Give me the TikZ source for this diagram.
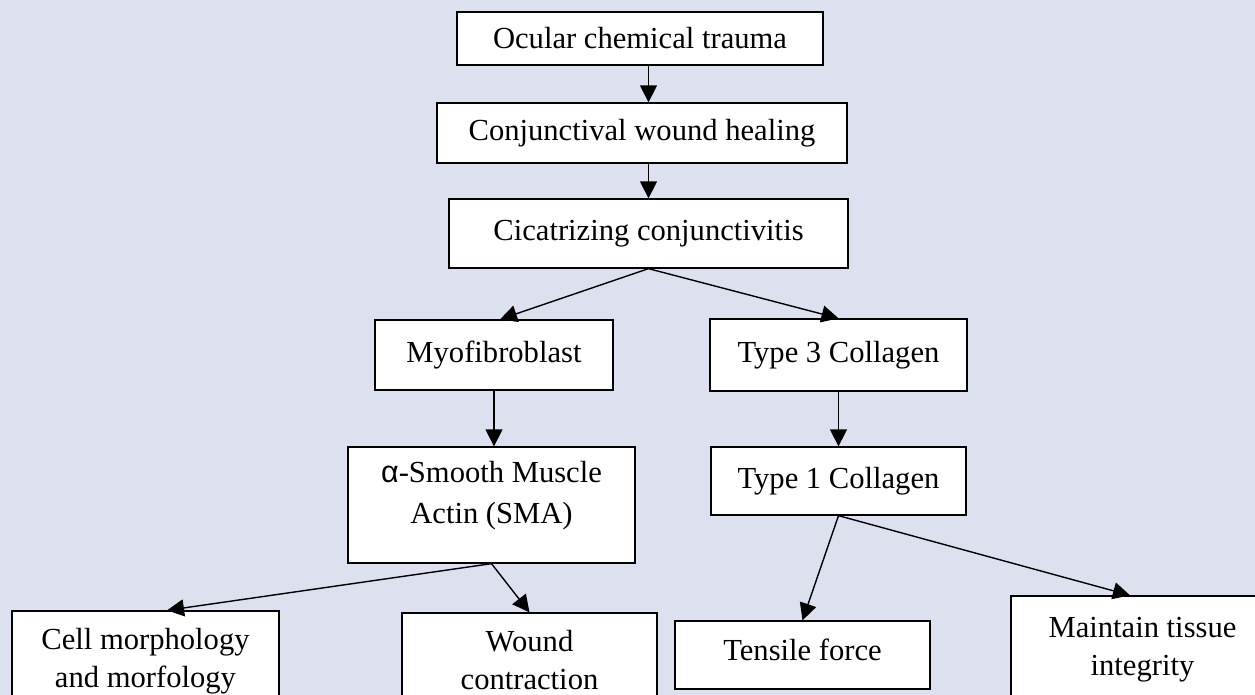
\documentclass[tikz,border=0pt]{standalone}
\usepackage{fontspec}
\setmainfont{Liberation Serif}
\newfontfamily\alphafont{Liberation Sans}
\usetikzlibrary{arrows.meta}
\definecolor{bglav}{RGB}{221,224,239}

\begin{document}
\begin{tikzpicture}[x=0.5pt, y=-0.5pt,
  box/.style={draw=black, fill=white, line width=0.65pt, align=center, inner sep=0pt,
    font=\fontsize{15.3}{19}\selectfont},
  arr/.style={-{Triangle[length=8.5pt,width=8.5pt]}, line width=0.7pt}]

% 背景
\fill[bglav] (0,0) rectangle (1255,695);
\useasboundingbox (0,0) rectangle (1255,695);
\clip (0,0) rectangle (1255,695);

\node[box, minimum width=183pt, minimum height=26.5pt] (trauma) at (640,38.5) {Ocular chemical trauma};
\node[box, minimum width=205pt, minimum height=30pt] (healing) at (642,133) {Conjunctival wound healing};
\node[box, minimum width=199.5pt, minimum height=34.5pt] (cicatr) at (648.5,233.5) {Cicatrizing conjunctivitis};

\node[box, minimum width=119pt, minimum height=35pt] (myo) at (494,355) {Myofibroblast};
\node[box, minimum width=128.5pt, minimum height=36pt] (type3) at (838.5,355) {Type 3 Collagen};

\node[box, minimum width=143.5pt, minimum height=58pt, text depth=13pt,
  font=\fontsize{15.3}{20.5}\selectfont] (sma) at (491.5,505) {{\alphafont α}-Smooth Muscle\\Actin (SMA)};
\node[box, minimum width=127.5pt, minimum height=34pt] (type1) at (838.5,481) {Type 1 Collagen};

\node[box, minimum width=133.5pt, minimum height=50pt] (cell) at (145.5,661) {Cell morphology\\and morfology};
\node[box, minimum width=127.5pt, minimum height=47pt] (wound) at (529.5,660) {Wound\\contraction};
\node[box, minimum width=127.5pt, minimum height=34pt, text depth=5pt] (tensile) at (802.5,655) {Tensile force};
\node[box, minimum width=131.5pt, minimum height=54pt] (maintain) at (1142.5,650) {Maintain tissue\\integrity};

% 箭头
\draw[arr] (trauma.south -| cicatr.north) -- (healing.north -| cicatr.north);
\draw[arr] (healing.south -| cicatr.north) -- (cicatr.north);
\draw[arr] (cicatr.south) -- ([xshift=3pt]myo.north);
\draw[arr] (cicatr.south) -- (type3.north);
\draw[arr] (myo.south) -- (myo.south |- sma.north);
\draw[arr] (type3.south) -- (type1.north);
\draw[arr] (sma.south) -- ([xshift=10.75pt]cell.north);
\draw[arr] (sma.south) -- (wound.north);
\draw[arr] (type1.south) -- (tensile.north);
\draw[arr] (type1.south) -- ([xshift=-6.25pt]maintain.north);

\end{tikzpicture}
\end{document}
